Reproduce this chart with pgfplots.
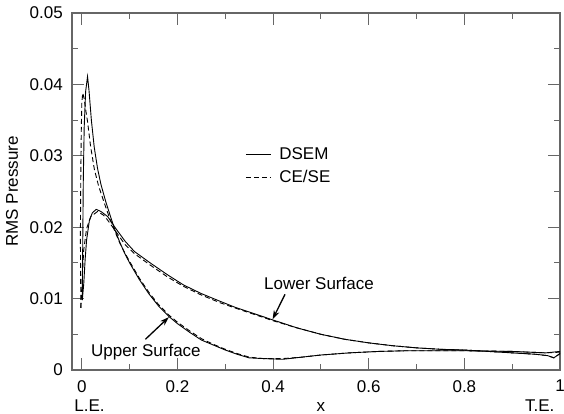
\documentclass[border=0pt]{standalone}
\usepackage{pgfplots}
\pgfplotsset{compat=1.18}
\usepackage{fontspec}
\setmainfont{Liberation Sans}
\usetikzlibrary{arrows.meta}
\begin{document}
\fontsize{17bp}{20bp}\selectfont
\begin{tikzpicture}
\path[use as bounding box] (-72bp,-44bp) rectangle (492bp,370bp);
\begin{axis}[
  scale only axis,
  width=488bp, height=357bp,
  xmin=-0.0205, xmax=1, ymin=0, ymax=0.05,
  xtick={0,0.2,0.4,0.6,0.8,1},
  xticklabels={0,0.2,0.4,0.6,0.8,1},
  ytick={0,0.01,0.02,0.03,0.04,0.05},
  yticklabels={0,0.01,0.02,0.03,0.04,0.05},
  minor x tick num=1, minor y tick num=1,
  tick align=inside, xtick pos=both, ytick pos=both,
  major tick length=12bp, minor tick length=6bp,
  every tick/.style={black!60, line width=1bp},
  axis line style={black!60, line width=1.6bp},
  xticklabel style={inner sep=0pt, yshift=-10bp},
  yticklabel style={inner sep=0pt, xshift=-9bp},
  scaled y ticks=false,
  ylabel={RMS Pressure},
  every axis y label/.style={at={(axis description cs:-0.123,0.5)}, rotate=90, anchor=center},
  legend style={draw=none, fill=none, at={(0.355,0.63)}, anchor=north west, inner sep=0pt,
    row sep=4bp, font=\fontsize{17bp}{20bp}\selectfont},
  legend cell align=left,
  legend image code/.code={\draw[#1] (0bp,0bp) -- (25bp,0bp);},
  every axis legend/.append style={nodes={inner xsep=8bp}},
  clip=false,
]
% DSEM upper surface
\addplot[black, line width=0.9bp] coordinates {
(0.001,0.0098) (0.002,0.0180) (0.003,0.0260) (0.005,0.0340) (0.008,0.0390)
(0.012,0.0411) (0.015,0.0392) (0.020,0.0350) (0.026,0.0312) (0.033,0.0282)
(0.040,0.0260) (0.050,0.0236) (0.060,0.0215) (0.070,0.0195) (0.080,0.0178)
(0.090,0.0163) (0.100,0.0150) (0.120,0.0127) (0.140,0.0107) (0.160,0.0090)
(0.182,0.0075) (0.200,0.0065) (0.225,0.0053) (0.250,0.0042) (0.275,0.0035)
(0.300,0.0028) (0.325,0.0022) (0.350,0.0017) (0.380,0.0016) (0.420,0.0015)
(0.460,0.0018) (0.500,0.0021) (0.560,0.0024) (0.620,0.0026) (0.680,0.0027)
(0.750,0.0027) (0.800,0.0027) (0.900,0.0026) (0.970,0.0024) (1.000,0.0026)
};
\addlegendentry{DSEM}
% CE/SE upper surface
\addplot[black, line width=0.9bp, dash pattern=on 5bp off 3bp] coordinates {
(-0.002,0.0087) (-0.003,0.0187) (-0.002,0.0280) (-0.001,0.0340) (0.000,0.0374)
(0.002,0.0388) (0.005,0.0380) (0.008,0.0365) (0.012,0.0348) (0.018,0.0315)
(0.026,0.0282) (0.035,0.0258) (0.047,0.0234) (0.058,0.0213) (0.068,0.0196)
(0.080,0.0177) (0.090,0.0164) (0.100,0.0152) (0.120,0.0129) (0.140,0.0109)
(0.160,0.0092) (0.182,0.0077) (0.200,0.0067) (0.225,0.0055) (0.250,0.0044)
(0.275,0.0036) (0.300,0.0029) (0.325,0.0023) (0.350,0.0018) (0.380,0.0016)
(0.420,0.0016) (0.460,0.0018) (0.500,0.0021) (0.560,0.0024) (0.620,0.0026)
(0.680,0.0027) (0.750,0.0027) (0.800,0.0027) (0.900,0.0026) (0.970,0.0024) (1.000,0.0025)
};
\addlegendentry{CE/SE}
% DSEM lower surface
\addplot[black, line width=0.9bp, forget plot] coordinates {
(0.001,0.0098) (0.004,0.0120) (0.007,0.0155) (0.010,0.0182) (0.016,0.0210)
(0.022,0.0220) (0.030,0.0225) (0.040,0.0222) (0.054,0.0215) (0.068,0.0201)
(0.080,0.0190) (0.091,0.0180) (0.110,0.0166) (0.143,0.0150) (0.180,0.0133)
(0.213,0.0119) (0.250,0.0107) (0.290,0.0096) (0.320,0.0088) (0.360,0.0079)
(0.400,0.0070) (0.450,0.0059) (0.500,0.0050) (0.550,0.0043) (0.600,0.0038)
(0.650,0.0034) (0.700,0.0031) (0.750,0.0029) (0.800,0.0028) (0.850,0.0026)
(0.900,0.0024) (0.950,0.0022) (0.975,0.0020) (0.987,0.0017) (1.000,0.0023)
};
% CE/SE lower surface
\addplot[black, line width=0.9bp, dash pattern=on 5bp off 3bp, forget plot] coordinates {
(-0.002,0.0087) (0.001,0.0130) (0.004,0.0168) (0.010,0.0198) (0.019,0.0215)
(0.033,0.0222) (0.045,0.0217) (0.054,0.0210) (0.068,0.0197) (0.090,0.0176)
(0.110,0.0163) (0.143,0.0147) (0.180,0.0130) (0.213,0.0117) (0.250,0.0105)
(0.290,0.0094) (0.320,0.0087) (0.360,0.0078) (0.400,0.0069) (0.450,0.0059)
(0.500,0.0050) (0.550,0.0043) (0.600,0.0038) (0.650,0.0034) (0.700,0.0031)
(0.750,0.0029) (0.800,0.0028) (0.850,0.0026) (0.900,0.0024) (0.950,0.0022)
(0.975,0.0020) (0.987,0.0017) (1.000,0.0023)
};
\node at (axis cs:0.496,0.01211) {Lower Surface};
\draw[-{Stealth[length=9bp,width=6bp]}, line width=1.3bp] (axis cs:0.425,0.0106) -- (axis cs:0.399,0.0071);
\node at (axis cs:0.134,0.00245) {Upper Surface};
\draw[-{Stealth[length=9bp,width=6bp]}, line width=1.3bp] (axis cs:0.133,0.0043) -- (axis cs:0.182,0.0074);
\node[anchor=base west, inner sep=0pt] at ([yshift=-41bp]axis cs:-0.016,0) {L.E.};
\node[anchor=base east, inner sep=0pt] at ([yshift=-41bp]axis cs:0.9885,0) {T.E.};
\node[anchor=base, inner sep=0pt] at ([yshift=-41bp]axis cs:0.5,0) {x};
\end{axis}
\end{tikzpicture}
\end{document}
